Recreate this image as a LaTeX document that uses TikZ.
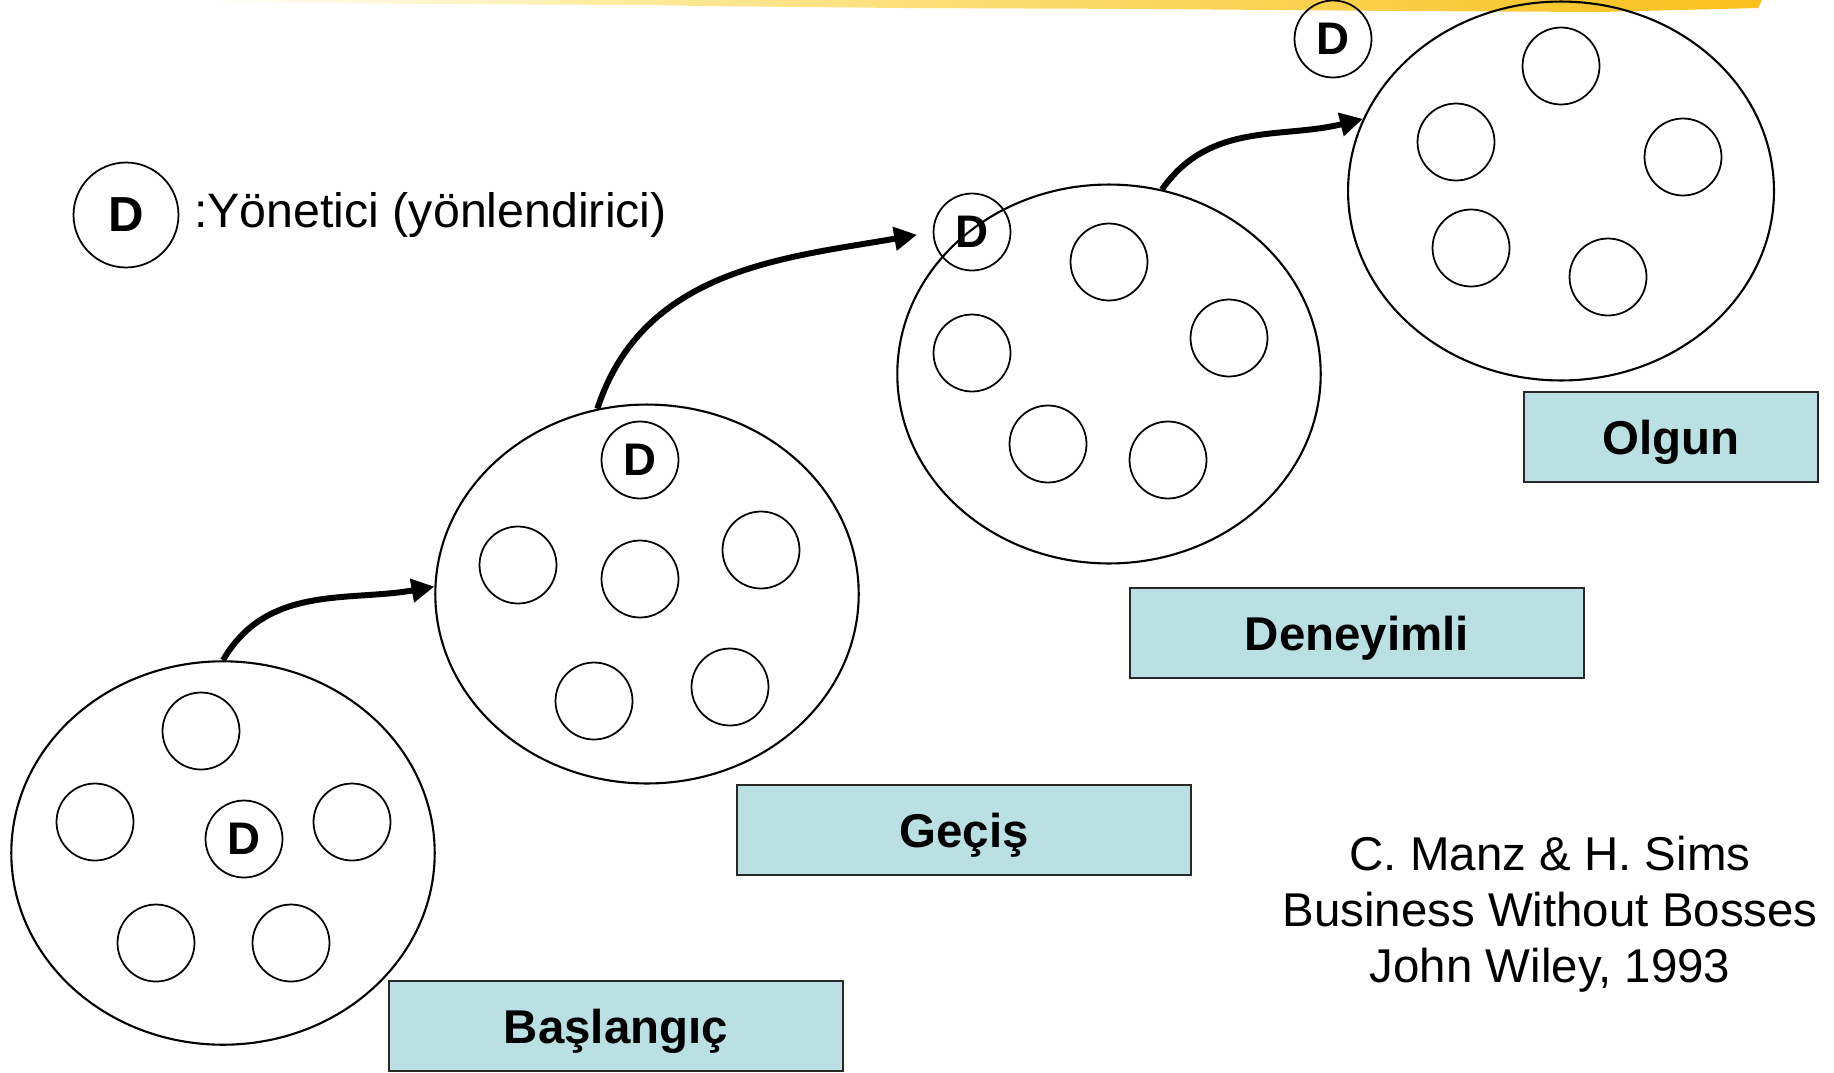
\documentclass[tikz,border=0pt]{standalone}
\usepackage{fontspec}
\setmainfont{Liberation Sans}
\usetikzlibrary{arrows.meta,shapes.geometric,positioning}
\definecolor{boxcyan}{RGB}{187,224,227}
\definecolor{boxedge}{RGB}{40,40,40}
\definecolor{bandgold}{RGB}{248,192,28}
\definecolor{bandpale}{RGB}{253,236,160}

\begin{document}
\begin{tikzpicture}[x=0.02cm, y=-0.02cm,
    stage/.style={ellipse, draw, line width=1.2pt, minimum width=8.47cm, minimum height=7.58cm, inner sep=0pt},
    member/.style={circle, draw, line width=1pt, minimum size=1.54cm, inner sep=0pt, font=\fontsize{26}{30}\selectfont\bfseries},
    phase/.style={rectangle, draw=boxedge, line width=1pt, fill=boxcyan, minimum width=9.08cm, minimum height=1.8cm, text height=19.5pt, text depth=0pt, font=\fontsize{27}{32}\selectfont\bfseries},
    arrow/.style={-{Triangle[length=13pt,width=13pt]}, line width=3.4pt}
]
\useasboundingbox (0,0) rectangle (1834,1072);

% Slide band at the top
\shade[left color=white, right color=bandpale] (200,0) -- (640,0) -- (640,5) -- (420,4) -- (200,2) -- cycle;
\shade[left color=bandpale, right color=bandgold] (560,0) -- (1762,0) -- (1758,8) -- (1600,12) -- (1400,11) -- (1150,9) -- (900,8) -- (700,6) -- (560,3) -- cycle;

% Legend
\node[member, minimum size=2.1cm, font=\fontsize{28}{32}\selectfont\bfseries] (legD) at (126,215) {D};
\node[right=0.29cm of legD, inner sep=0pt, font=\fontsize{27.5}{32}\selectfont] (legtext) {:Yönetici (yönlendirici)};

% Four stages
\node[stage, minimum height=7.67cm] (bas) at (223,853) {};
\node[stage] (gec) at (647,594) {};
\node[stage] (den) at (1109,374) {};
\node[stage, minimum width=8.52cm] (olg) at (1561,191) {};

% Başlangıç members
\node[member] (bas1) at (201,731) {};
\node[member] (bas2) at (95,822) {};
\node[member] (basD) at (244,839) {D};
\node[member] (bas3) at (352,822) {};
\node[member] (bas4) at (156,943) {};
\node[member] (bas5) at (291,943) {};

% Geçiş members
\node[member] (gecD) at (640,460) {D};
\node[member] (gec1) at (518,565) {};
\node[member] (gec2) at (640,579) {};
\node[member] (gec3) at (761,550) {};
\node[member] (gec4) at (594,701) {};
\node[member] (gec5) at (730,687) {};

% Deneyimli members
\node[member] (denD) at (972,232) {D};
\node[member] (den1) at (1109,262) {};
\node[member] (den2) at (972,353) {};
\node[member] (den3) at (1229,338) {};
\node[member] (den4) at (1048,444) {};
\node[member] (den5) at (1168,460) {};

% Olgun members
\node[member] (olgD) at (1333,39) {D};
\node[member] (olg1) at (1561,66) {};
\node[member] (olg2) at (1456,142) {};
\node[member] (olg3) at (1683,157) {};
\node[member] (olg4) at (1471,248) {};
\node[member] (olg5) at (1608,277) {};

% Stage names
\node[phase] (basbox) at (616,1026) {Başlangıç};
\node[phase] (gecbox) at (964,830) {Geçiş};
\node[phase] (denbox) at (1357,633) {Deneyimli};
\node[phase, minimum width=5.89cm] (olgbox) at (1671,437) {Olgun};

% Arrows
\draw[arrow] (bas.north) to[out=60, in=190] (gec.178);
\draw[arrow, shorten >=9pt] (gec.105) to[out=72, in=190] (denD.west);
\draw[arrow] (den.74) to[out=55, in=194] (olg.160);

% Source
\node[align=center, font=\fontsize{27}{32}\selectfont] (source) at (1550,914) {C. Manz \& H. Sims\\Business Without Bosses\\John Wiley, 1993};

\end{tikzpicture}
\end{document}
